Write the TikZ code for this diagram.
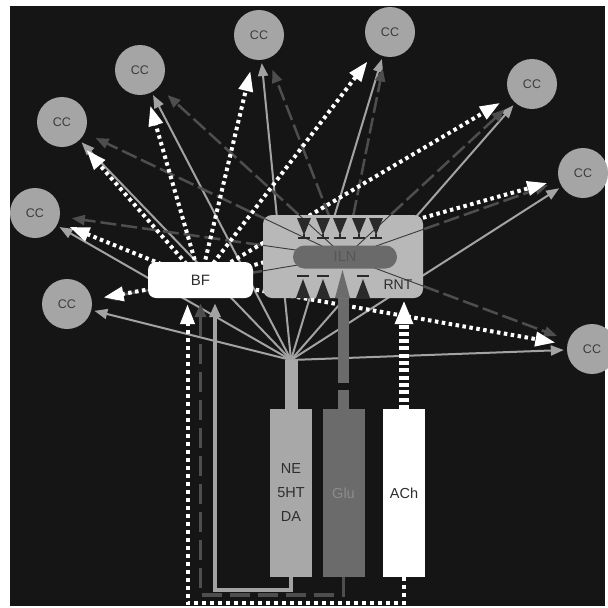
\documentclass[tikz,border=0pt]{standalone}
\usepackage{fontspec}
\setmainfont{Liberation Sans}
\usetikzlibrary{arrows.meta,calc}
\pgfdeclarelayer{lines}
\pgfsetlayers{lines,main}
\definecolor{bgc}{HTML}{151515}
\definecolor{ccfill}{HTML}{A5A5A5}
\definecolor{cctext}{HTML}{3C3C3C}
\definecolor{lgray}{HTML}{A3A3A3}
\definecolor{dgray}{HTML}{4E4E4E}
\definecolor{rntfill}{HTML}{B8B8B8}
\definecolor{ilnfill}{HTML}{6A6A6A}
\definecolor{ilntext}{HTML}{565656}
\definecolor{negray}{HTML}{A8A8A8}
\definecolor{glufill}{HTML}{6B6B6B}
\definecolor{glutext}{HTML}{8C8C8C}
\definecolor{funnelc}{HTML}{2A2A2A}
\definecolor{darktext}{HTML}{2E2E2E}
\definecolor{raycol}{HTML}{3A3A3A}
\begin{document}
\begin{tikzpicture}[x=1pt,y=-1pt,
  cc/.style={circle,fill=ccfill,minimum size=50pt,inner sep=0pt,text=cctext,font=\fontsize{12.5}{12.5}\selectfont},
  hubarrow/.style={draw=lgray,line width=2pt,-{Triangle[length=13pt,width=10pt]},shorten >=3pt},
  bfarrow/.style={draw=white,line width=4pt,dash pattern=on 3.5pt off 3.5pt,-{Triangle[length=20pt,width=14pt]},shorten >=12pt},
  ilnarrow/.style={draw=dgray,line width=2.5pt,dash pattern=on 16pt off 5pt,-{Triangle[length=13pt,width=10pt]},shorten >=12pt},
  ray/.style={draw=raycol,line width=0.9pt},
  barbox/.style={minimum width=42pt,minimum height=168pt,inner sep=0pt,font=\fontsize{14.5}{24}\selectfont,align=center},
  wroute/.style={draw=white,line width=4pt,dash pattern=on 4pt off 4pt,-{Triangle[length=20pt,width=14pt]},shorten >=6pt},
  groute/.style={draw=lgray,line width=3.5pt,-{Triangle[length=14pt,width=11pt]},shorten >=5pt},
  droute/.style={draw=dgray,line width=3.5pt,dash pattern=on 20pt off 8pt,-{Triangle[length=14pt,width=11pt]},shorten >=5pt},
  achcol/.style={draw=white,line width=10pt,dash pattern=on 4pt off 3.3pt,-{Triangle[length=24pt,width=17pt]},shorten >=2pt},
  glucol/.style={draw=glufill,line width=11pt,dash pattern=on 19pt off 7pt on 300pt off 1pt},
  nestem/.style={draw=negray,line width=13pt},
  funnel/.style={fill=funnelc},
  funnelbar/.style={draw=funnelc,line width=1.6pt},
  txt/.style={inner sep=0pt,font=\fontsize{14}{14}\selectfont,text=darktext}
]
\begin{pgfonlayer}{lines}
\fill[white] (0,0) rectangle (608,608);
\fill[bgc] (10,6) rectangle (605,606);
\end{pgfonlayer}
\useasboundingbox (0,0) rectangle (608,608);

% cortex
\node[cc] (c1) at (67,304) {CC};
\node[cc] (c2) at (35,213) {CC};
\node[cc] (c3) at (62,122) {CC};
\node[cc] (c4) at (140,70) {CC};
\node[cc] (c5) at (259,35) {CC};
\node[cc] (c6) at (390,32) {CC};
\node[cc] (c7) at (532,84) {CC};
\node[cc] (c8) at (583,173) {CC};
\node[cc] (c9) at (592,349) {CC};

\coordinate (hub) at (291,360);
\coordinate (ilnc) at (345,257);

% thalamus box
\node[fill=rntfill,rounded corners=9pt,minimum width=160pt,minimum height=83pt,inner sep=0pt] (rnt) at (343,256.5) {};
\begin{scope}
\clip[rounded corners=9pt] (rnt.south west) rectangle (rnt.north east);
\foreach \c in {c1,c2,c3,c4,c7,c8,c9} \draw[ray] (ilnc) -- (\c);
\end{scope}
\node[fill=ilnfill,rounded corners=11.5pt,minimum width=104pt,minimum height=23pt,inner sep=0pt,text=ilntext,font=\fontsize{14.5}{14.5}\selectfont] (iln) at (ilnc) {ILN};
\foreach \x in {304,323,340,359,376} {
  \fill[funnel] (\x-7,218) -- (\x+7,218) -- (\x,235) -- cycle;
  \draw[funnelbar] (\x,234) -- (\x,238);
  \draw[funnelbar] (\x-6,238) -- (\x+6,238);
}
\foreach \x in {303,323,363} {
  \fill[funnel] (\x-7,298) -- (\x+7,298) -- (\x,279) -- cycle;
  \draw[funnelbar] (\x-6,276) -- (\x+6,276);
}
\fill[glufill] (335,298) -- (350,298) -- (342.5,270) -- cycle;
\node[txt] (rntlabel) at (398,285) {RNT};

% basal forebrain
\node[fill=white,rounded corners=8pt,minimum width=105pt,minimum height=36pt,inner sep=0pt,font=\fontsize{15}{15}\selectfont,text=darktext] (bf) at (200.5,280) {BF};

% brainstem
\node[barbox,fill=negray,text=darktext] (ne) at (291,493) {NE\\5HT\\DA};
\node[barbox,fill=glufill,text=glutext] (glu) at (343.5,493) {Glu};
\node[barbox,fill=white,text=darktext] (ach) at (404,493) {ACh};

\begin{pgfonlayer}{lines}
\foreach \c in {c1,c2,c3,c4,c5,c6,c7,c8,c9} \draw[hubarrow] (hub) -- (\c);
\foreach \c in {c1,c2,c3,c4,c5,c6,c7,c8,c9} \draw[ilnarrow] (ilnc) -- (\c);
\foreach \c in {c1,c2,c3,c4,c5,c6,c7,c8,c9} \draw[bfarrow] (bf.center) -- (\c);
\draw[droute] (glu.south) -- ++(0,18) -| (bf.south);
\draw[groute] (ne.south) -- ++(0,13) -| ($(bf.south)+(14.5,0)$);
\draw[wroute] (ach.south) -- ++(0,26) -| ($(bf.south)+(-13,0)$);
\draw[glucol] (glu.north) -- (glu.north |- rnt.south);
\draw[achcol] (ach.north) -- (ach.north |- rnt.south);
\draw[nestem] (ne.north) -- (hub);
\end{pgfonlayer}
\end{tikzpicture}
\end{document}
